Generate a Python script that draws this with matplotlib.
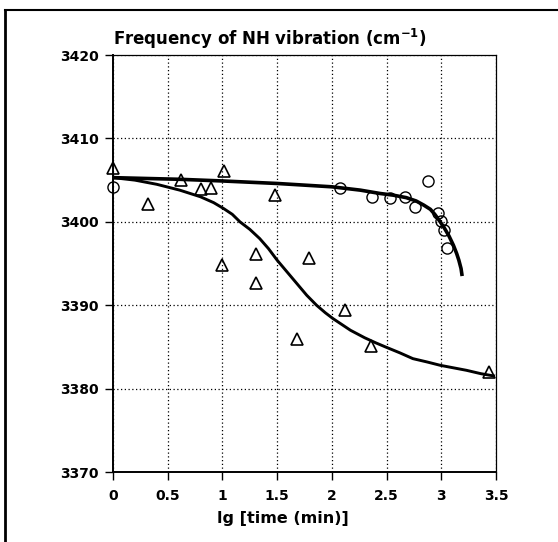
import numpy as np
import matplotlib
matplotlib.use('Agg')
import matplotlib.pyplot as plt
from matplotlib.lines import Line2D

plt.rcParams['font.family'] = ['DejaVu Sans']
plt.rcParams['font.weight'] = 'bold'
plt.rcParams['mathtext.fontset'] = 'custom'
plt.rcParams['mathtext.rm'] = 'DejaVu Sans:bold'
plt.rcParams['mathtext.default'] = 'rm'

## measured points (triangles)
tri_x = [0.0, 0.32, 0.62, 0.80, 0.90, 1.01, 1.00, 1.31, 1.31, 1.48, 1.68, 1.79, 2.12, 2.36, 3.44]
tri_y = [3406.5, 3402.1, 3405.0, 3403.9, 3404.1, 3406.1, 3394.8, 3396.2, 3392.7, 3403.2, 3386.0, 3395.7, 3389.4, 3385.1, 3382.0]

## measured points (circles)
circ_x = [0.0, 2.07, 2.37, 2.53, 2.67, 2.76, 2.88, 2.97, 3.00, 3.02, 3.05]
circ_y = [3404.2, 3404.0, 3403.0, 3402.9, 3403.0, 3401.8, 3404.9, 3401.1, 3400.1, 3399.0, 3396.9]

## fitted curves
up_x = [0.0, 0.3, 0.61, 1.0, 1.5, 2.0, 2.26, 2.44, 2.56, 2.68, 2.77, 2.84, 2.90, 2.94, 2.99, 3.03, 3.07, 3.11, 3.14, 3.16, 3.18, 3.19]
up_y = [3405.3, 3405.2, 3405.1, 3404.9, 3404.6, 3404.2, 3403.8, 3403.4, 3403.2, 3402.9, 3402.5, 3402.0, 3401.5, 3400.9, 3400.0, 3399.2, 3398.3, 3397.2, 3396.2, 3395.4, 3394.4, 3393.5]

low_x = [0.0, 0.2, 0.4, 0.61, 0.8, 0.92, 1.01, 1.09, 1.16, 1.25, 1.34, 1.42, 1.50, 1.59, 1.68, 1.77, 1.86, 1.94, 2.01, 2.09, 2.17, 2.30, 2.40, 2.49, 2.62, 2.74, 2.87, 2.99, 3.11, 3.23, 3.36, 3.49]
low_y = [3405.3, 3405.0, 3404.5, 3403.8, 3403.0, 3402.3, 3401.6, 3400.9, 3400.0, 3399.1, 3398.0, 3396.8, 3395.4, 3394.0, 3392.6, 3391.2, 3390.0, 3389.1, 3388.4, 3387.7, 3387.0, 3386.1, 3385.5, 3385.0, 3384.3, 3383.6, 3383.2, 3382.8, 3382.5, 3382.2, 3381.8, 3381.5]

x_ticks = [0, 0.5, 1, 1.5, 2, 2.5, 3, 3.5]
x_labels = ['0', '0.5', '1', '1.5', '2', '2.5', '3', '3.5']
y_ticks = [3370, 3380, 3390, 3400, 3410, 3420]

fig = plt.figure(figsize=(5.58, 5.42), dpi=100)
ax = fig.add_axes([0.2025, 0.129, 0.6865, 0.7695])

ax.plot(up_x, up_y, color='black', lw=2.6, solid_capstyle='butt', zorder=3)
ax.plot(low_x, low_y, color='black', lw=2.1, solid_capstyle='butt', zorder=3)
ax.plot(tri_x, tri_y, ls='none', marker='^', ms=9, mfc='none', mec='black', mew=1.2, zorder=4, clip_on=False)
ax.plot(circ_x, circ_y, ls='none', marker='o', ms=8, mfc='none', mec='black', mew=1.0, zorder=4, clip_on=False)

ax.set_xlim(0, 3.5)
ax.set_ylim(3370, 3420)
ax.set_xticks(x_ticks)
ax.set_xticklabels(x_labels)
ax.set_yticks(y_ticks)
ax.tick_params(direction='out', length=6, width=1.0, labelsize=10, pad=6)
ax.tick_params(axis='y', pad=4)
ax.grid(True, ls=(0, (1, 2)), color='black', lw=0.9)

for s in ['left', 'bottom']:
    ax.spines[s].set_linewidth(1.4)
for s in ['top', 'right']:
    ax.spines[s].set_linewidth(0.9)

ax.text(0.0, 1.01, r'Frequency of NH vibration (cm$^{-1}$)', transform=ax.transAxes,
        ha='left', va='bottom', fontsize=12, fontweight='bold')
fig.text(283 / 558, 1 - 523 / 542, 'lg [time (min)]', ha='center', va='baseline',
         fontsize=11.5, fontweight='bold')

## outer frame (left and top only)
fig.add_artist(Line2D([5 / 558, 5 / 558], [0, 1 - 10 / 542], color='black', lw=2.0, transform=fig.transFigure))
fig.add_artist(Line2D([5 / 558, 1], [1 - 10 / 542, 1 - 10 / 542], color='black', lw=1.5, transform=fig.transFigure))

fig.savefig('out.png', dpi=100)
